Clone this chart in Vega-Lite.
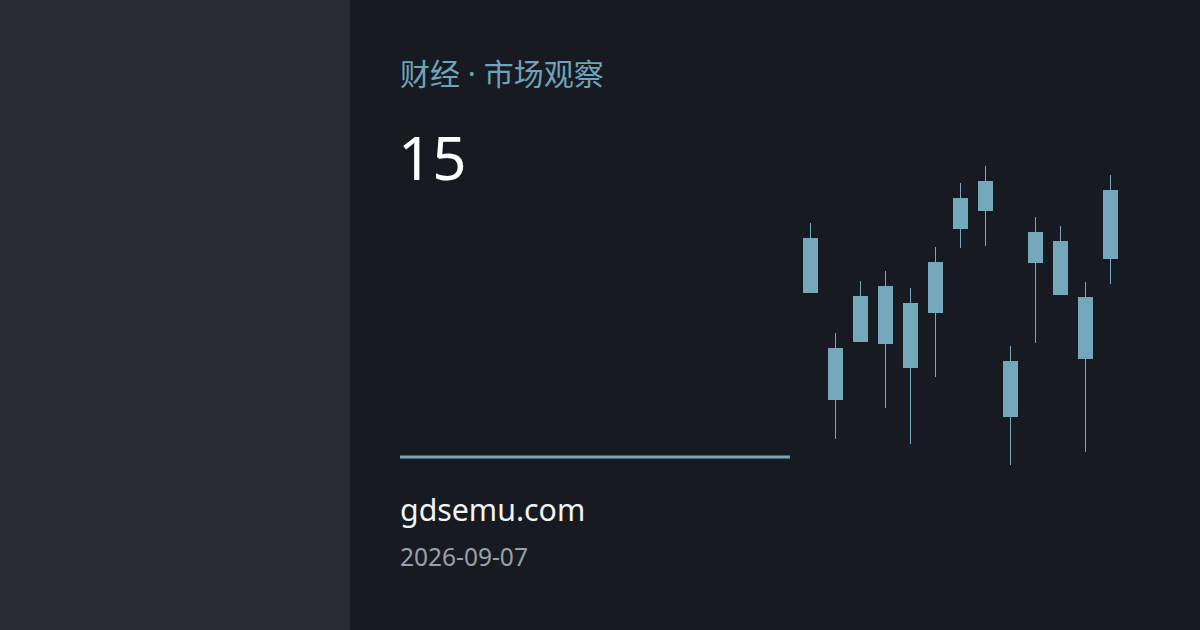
{
  "$schema": "https://vega.github.io/schema/vega-lite/v6.json",
  "width": 1200,
  "height": 630,
  "autosize": {"type": "fit", "contains": "padding"},
  "padding": 0,
  "background": "#171a21",
  "config": {"view": {"stroke": null}, "font": "Noto Sans"},
  "layer": [
    {
      "data": {"values": [{"panel": "left"}]},
      "mark": {"type": "rect", "color": "#282b33"},
      "encoding": {
        "x": {"value": 0},
        "x2": {"value": 350},
        "y": {"value": 0},
        "y2": {"value": 630}
      }
    },
    {
      "data": {"values": [{"label": "财经 · 市场观察"}]},
      "mark": {"type": "text", "align": "left", "baseline": "alphabetic", "font": "Noto Sans, Noto Sans CJK SC", "fontSize": 30, "color": "#6fa3b7"},
      "encoding": {"text": {"field": "label"}, "x": {"value": 400}, "y": {"value": 85}}
    },
    {
      "data": {"values": [{"label": "15"}]},
      "mark": {"type": "text", "align": "left", "baseline": "alphabetic", "font": "Noto Sans", "fontSize": 60, "color": "#ffffff"},
      "encoding": {"text": {"field": "label"}, "x": {"value": 398}, "y": {"value": 180}}
    },
    {
      "data": {"values": [{"label": "rule"}]},
      "mark": {"type": "rule", "color": "#76a8bb", "strokeWidth": 3},
      "encoding": {"x": {"value": 400}, "x2": {"value": 790}, "y": {"value": 457}}
    },
    {
      "data": {"values": [{"label": "gdsemu.com"}]},
      "mark": {"type": "text", "align": "left", "baseline": "alphabetic", "font": "Noto Sans", "fontSize": 30.3, "color": "#f2f4f6"},
      "encoding": {"text": {"field": "label"}, "x": {"value": 400}, "y": {"value": 521}}
    },
    {
      "data": {"values": [{"label": "2026-09-07"}]},
      "mark": {"type": "text", "align": "left", "baseline": "alphabetic", "font": "Noto Sans", "fontSize": 24.5, "color": "#9aa0a8"},
      "encoding": {"text": {"field": "label"}, "x": {"value": 400}, "y": {"value": 566}}
    },
    {
      "data": {
        "values": [
          {"day": 1, "high": 27.7, "low": 20.7, "open": 26.2, "close": 20.7},
          {"day": 2, "high": 16.7, "low": 6.1, "open": 15.2, "close": 10.0},
          {"day": 3, "high": 21.9, "low": 15.8, "open": 20.4, "close": 15.8},
          {"day": 4, "high": 22.9, "low": 9.2, "open": 21.4, "close": 15.6},
          {"day": 5, "high": 21.2, "low": 5.6, "open": 19.7, "close": 13.2},
          {"day": 6, "high": 25.3, "low": 12.3, "open": 23.8, "close": 18.7},
          {"day": 7, "high": 31.7, "low": 25.2, "open": 30.2, "close": 27.1},
          {"day": 8, "high": 33.4, "low": 25.4, "open": 31.9, "close": 28.9},
          {"day": 9, "high": 15.4, "low": 3.5, "open": 13.9, "close": 8.3},
          {"day": 10, "high": 28.3, "low": 15.7, "open": 26.8, "close": 23.7},
          {"day": 11, "high": 27.4, "low": 20.5, "open": 25.9, "close": 20.5},
          {"day": 12, "high": 21.8, "low": 4.8, "open": 20.3, "close": 14.1},
          {"day": 13, "high": 32.5, "low": 21.6, "open": 31.0, "close": 24.1}
        ]
      },
      "encoding": {
        "x": {"field": "day", "type": "quantitative", "axis": null, "scale": {"domain": [1, 13], "range": [810.5, 1110.5], "padding": 0}}
      },
      "layer": [
        {
          "mark": {"type": "rule", "color": "#76a8bb", "strokeWidth": 1},
          "encoding": {
            "y": {"field": "low", "type": "quantitative", "axis": null, "scale": {"domain": [0, 50], "range": [500, 0]}},
            "y2": {"field": "high"}
          }
        },
        {
          "mark": {"type": "bar", "color": "#76a8bb", "size": 15},
          "encoding": {
            "y": {"field": "open", "type": "quantitative", "axis": null, "scale": {"domain": [0, 50], "range": [500, 0]}},
            "y2": {"field": "close"}
          }
        }
      ]
    }
  ]
}
